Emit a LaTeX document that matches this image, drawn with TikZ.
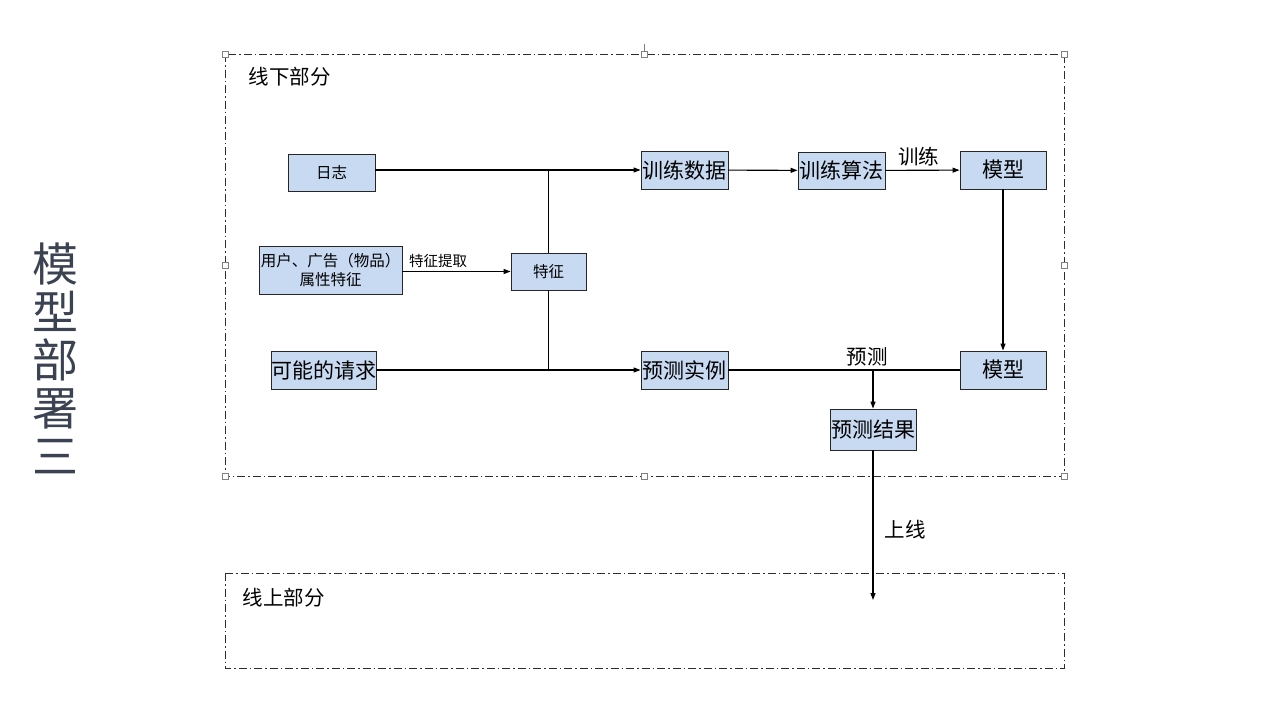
\documentclass[tikz,border=0pt]{standalone}
\usepackage{fontspec}
\setmainfont{Noto Sans CJK SC}
\usetikzlibrary{arrows.meta,positioning}
\definecolor{cBox}  {RGB}{200,218,242}
\definecolor{cTitle}{RGB}{59,66,82}
\definecolor{cFrame}{RGB}{45,45,45}
\tikzset{
  >={Triangle[length=7pt,width=5pt]},
  unit/.style={draw=black!85,fill=cBox,inner sep=0pt,line width=0.9pt,
               font=\fontsize{21}{23}\selectfont},
  unitsm/.style={unit,font=\fontsize{15.5}{19}\selectfont,align=center},
  frame/.style={draw=cFrame,line width=0.9pt,
                dash pattern=on 8pt off 3pt on 1.5pt off 3pt},
  handle/.style={draw=gray,fill=white,line width=0.6pt,minimum size=6pt,inner sep=0pt},
  flow/.style={->,line width=1.1pt},
  link/.style={-,line width=1.1pt},
  lab/.style={font=\fontsize{20.5}{22}\selectfont},
}

\begin{document}
\begin{tikzpicture}[x=1pt,y=-1pt]
  \useasboundingbox (0,0) rectangle (1280,720);
  % title
  \node[text=cTitle,align=center,font=\fontsize{46}{48}\selectfont]
       (title) at (55,358) {模\\型\\部\\署\\三};
  % offline part
  \draw[frame] (225,54) rectangle (1064,476);
  \draw[gray,line width=0.6pt] (644,44)--(644,54);
  \node[handle] (h1) at (225,54)  {};
  \node[handle] (h2) at (644,54)  {};
  \node[handle] (h3) at (1064,54) {};
  \node[handle] (h4) at (225,265) {};
  \node[handle] (h5) at (1064,265){};
  \node[handle] (h6) at (225,476) {};
  \node[handle] (h7) at (644,476) {};
  \node[handle] (h8) at (1064,476){};
  \node[lab,anchor=west] (offl) at (245,77) {线下部分};
  % online part
  \draw[frame] (225,573) rectangle (1064,668);
  \node[lab,anchor=west] (onl) at (239,598) {线上部分};

  % inputs
  \node[unitsm,minimum width=87pt,minimum height=37pt] (log)  at (331.5,173) {日志};
  \node[unitsm,minimum width=143pt,minimum height=48pt](attr) at (330.5,270)
       {用户、广告（物品）\\属性特征};
  \node[unit,minimum width=103pt,minimum height=38pt] (req)  at (323.5,370) {可能的请求};
  \node[unitsm,minimum width=75pt,minimum height=37pt] (feat) at (548.5,271.5) {特征};
  % training row
  \node[unit,minimum width=87pt,minimum height=38pt] (data)  at (684.5,170) {训练数据};
  \node[unit,minimum width=87pt,minimum height=37pt] (algo)  at (841.5,170.5) {训练算法};
  \node[unit,minimum width=86pt,minimum height=38pt] (model) at (1003,170) {模型};
  % prediction row
  \node[unit,minimum width=87pt,minimum height=38pt] (inst)   at (684.5,370) {预测实例};
  \node[unit,minimum width=86pt,minimum height=38pt] (model2) at (1003,370) {模型};
  \node[unit,minimum width=86pt,minimum height=41pt] (result) at (873,429.5) {预测结果};
  \coordinate (online) at (873,600);

  \draw[flow] (log.east |- data.west) -- (data.west);
  \draw[flow] (req.east |- inst.west) -- (inst.west);
  \draw[link] (feat.north) -- (feat.north |- data.west);
  \draw[link] (feat.south) -- (feat.south |- inst.west);
  \draw[flow] (attr.east |- feat.west) -- node[above,pos=0.33,font=\fontsize{14.5}{16}\selectfont]{特征提取} (feat.west);
  \draw[flow] (data) -- (algo);
  \draw[flow] (algo) -- node[lab,above,pos=0.45]{训练} (model);
  \draw[flow] (model) -- (model2);
  \draw[link] (inst) -- node[lab,above,pos=0.6]{预测} (model2);
  \draw[flow] (result.north |- inst.east) -- (result.north);
  \draw[flow] (result) -- node[lab,right,pos=0.53,xshift=8pt]{上线} (online);
\end{tikzpicture}
\end{document}
